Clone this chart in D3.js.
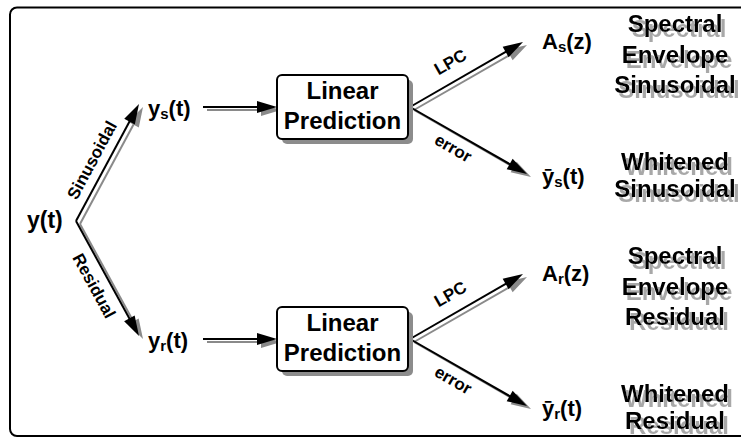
<!DOCTYPE html>
<html><head><meta charset="utf-8">
<script src="https://cdn.jsdelivr.net/npm/d3@7"></script>
<style>
body{margin:0;background:#fff}
svg{display:block}
text{font-family:"Liberation Sans",Arial,Helvetica,sans-serif;font-weight:bold}
</style>
</head><body>
<svg id="c" width="741" height="438"></svg>
<script>
// ---- diagram content ----
const sourceLabel = "y(t)";
const branches = ["Sinusoidal", "Residual"];
const branchSubscripts = ["s", "r"];
const blockLines = ["Linear", "Prediction"];
const edgeLabels = ["LPC", "error"];
const outputBases = ["A", "ȳ"];
const outputArgs = ["(z)", "(t)"];
const envelopeWords = ["Spectral", "Envelope"];
const whitenedWords = ["Whitened"];

// ---- layout ----
const svg = d3.select("#c");
const yRow = d3.scalePoint().domain(branches).range([107, 339]);
const L = {
  vertex: [76, 221], branchTipX: 139, branchTipDy: -3,
  branchTextX: 148, lineStart: 203, boxX0: 277, boxX1: 408, boxH: 64,
  forkX: 410, lpcTip: [523, -65], errTip: [527, 67],
  outX: 542, outDy: [-58, 77], descX: 675,
  descDy: [[-75, -44, -14], [63, 90]]
};
const SH = [4, 3];            // shadow offset for arrows
const black = "#000", gray = "#8a8a8a";

const defs = svg.append("defs");
const f = defs.append("filter").attr("id", "tshadow")
  .attr("x", "-10%").attr("y", "-20%").attr("width", "130%").attr("height", "160%");
f.append("feOffset").attr("in", "SourceAlpha").attr("dx", 4).attr("dy", 5).attr("result", "off");
f.append("feFlood").attr("flood-color", "#a8a8a8").attr("result", "col");
f.append("feComposite").attr("in", "col").attr("in2", "off").attr("operator", "in").attr("result", "sh");
const fm = f.append("feMerge");
fm.append("feMergeNode").attr("in", "sh");
fm.append("feMergeNode").attr("in", "SourceGraphic");

svg.append("rect").attr("width", 741).attr("height", 438).attr("fill", "#fff");
svg.append("rect").attr("x", 10).attr("y", 7.5).attr("width", 745).attr("height", 428.5)
  .attr("rx", 7).attr("fill", "none").attr("stroke", "#000").attr("stroke-width", 2);

const gShadow = svg.append("g");
const gMain = svg.append("g");

function arrow(g, x1, y1, x2, y2, color) {
  const a = Math.atan2(y2 - y1, x2 - x1), ux = Math.cos(a), uy = Math.sin(a);
  const hl = 20, hw = 12;
  const bx = x2 - ux * hl, by = y2 - uy * hl;
  g.append("line").attr("x1", x1).attr("y1", y1)
    .attr("x2", bx + ux * 2).attr("y2", by + uy * 2)
    .attr("stroke", color).attr("stroke-width", 2);
  g.append("path")
    .attr("d", `M${x2},${y2}L${bx - uy * hw / 2},${by + ux * hw / 2}L${bx + uy * hw / 2},${by - ux * hw / 2}Z`)
    .attr("fill", color);
}
function arrowSh(x1, y1, x2, y2) {
  arrow(gShadow, x1 + SH[0], y1 + SH[1], x2 + SH[0], y2 + SH[1], gray);
  arrow(gMain, x1, y1, x2, y2, black);
}
function edgeLabel(x1, y1, x2, y2, t, dy, label) {
  const a = Math.atan2(y2 - y1, x2 - x1) * 180 / Math.PI;
  const mx = x1 + (x2 - x1) * t, my = y1 + (y2 - y1) * t;
  svg.append("text").attr("transform", `translate(${mx},${my}) rotate(${a})`)
    .attr("text-anchor", "middle").attr("dy", dy).attr("font-size", 17).text(label);
}

// source
svg.append("text").attr("x", 27).attr("y", 228).attr("font-size", 23).text(sourceLabel);
const [vx, vy] = L.vertex;

branches.forEach((b, i) => {
  const cy = yRow(b);
  const tipY = cy + L.branchTipDy;
  arrowSh(vx, vy, L.branchTipX, tipY);
  edgeLabel(vx, vy, L.branchTipX, tipY, i === 0 ? 0.46 : 0.5, i === 0 ? -9 : 21, b);
  const t = svg.append("text").attr("x", L.branchTextX).attr("y", cy + 9).attr("font-size", 22);
  t.append("tspan").text("y");
  t.append("tspan").attr("font-size", 15).attr("dy", 3).text(branchSubscripts[i]);
  t.append("tspan").attr("dy", -3).text("(t)");
  arrowSh(L.lineStart, cy, L.boxX0, cy);
  svg.append("rect").attr("x", L.boxX0 + 5).attr("y", cy - L.boxH / 2 + 5)
    .attr("width", L.boxX1 - L.boxX0).attr("height", L.boxH).attr("rx", 5).attr("fill", "#8c8c8c");
  svg.append("rect").attr("x", L.boxX0).attr("y", cy - L.boxH / 2)
    .attr("width", L.boxX1 - L.boxX0).attr("height", L.boxH).attr("rx", 5)
    .attr("fill", "#fff").attr("stroke", "#000").attr("stroke-width", 2);
  blockLines.forEach((w, k) => {
    svg.append("text").attr("x", (L.boxX0 + L.boxX1) / 2).attr("y", cy - 8 + k * 30)
      .attr("text-anchor", "middle").attr("font-size", 24).text(w);
  });
  const tips = [L.lpcTip, L.errTip];
  tips.forEach((tp, k) => {
    arrowSh(L.forkX, cy, tp[0], cy + tp[1]);
    edgeLabel(L.forkX, cy, tp[0], cy + tp[1], k === 0 ? 0.44 : 0.43, k === 0 ? -13 : 20, edgeLabels[k]);
    const o = svg.append("text").attr("x", L.outX).attr("y", cy + L.outDy[k]).attr("font-size", 22);
    o.append("tspan").text(outputBases[k]);
    o.append("tspan").attr("font-size", 15).attr("dy", 3).text(branchSubscripts[i]);
    o.append("tspan").attr("dy", -3).text(outputArgs[k]);
    const words = (k === 0 ? envelopeWords : whitenedWords).concat([b]);
    words.forEach((w, j) => {
      svg.append("text").attr("x", L.descX).attr("y", cy + L.descDy[k][j])
        .attr("text-anchor", "middle").attr("font-size", 24).attr("fill", "#000")
        .attr("filter", "url(#tshadow)").text(w);
    });
  });
});
gShadow.lower();
svg.select("rect").lower();
</script>
</body></html>
